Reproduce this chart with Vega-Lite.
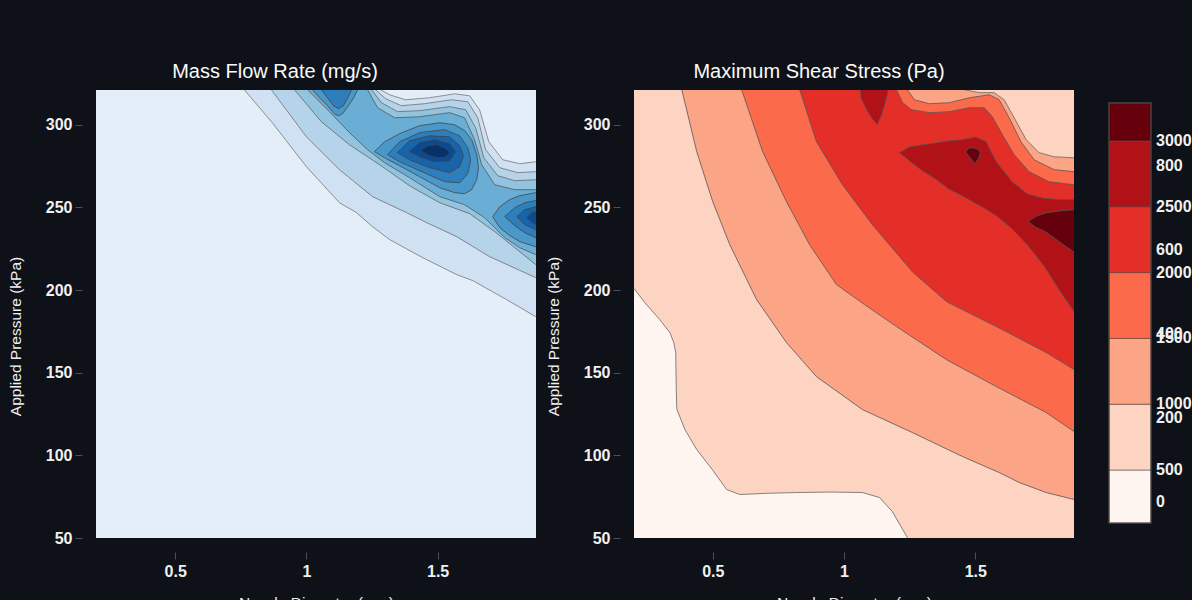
{
"$schema": "https://vega.github.io/schema/vega-lite/v6.json",
"background": "#0e1117",
"padding": {"left": 8, "top": 62, "right": 0, "bottom": 0},
"config": {
  "font": "Liberation Sans",
  "view": {"stroke": null},
  "title": {"color": "#fafafa", "fontSize": 20, "fontWeight": "normal", "baseline": "alphabetic", "offset": 8},
  "axis": {"labelColor": "#f0f0f0", "titleColor": "#f0f0f0", "labelFontSize": 16, "labelFontWeight": "bold", "titleFontSize": 15.5, "titleFontWeight": "normal", "tickColor": "#4a4f5c", "domain": false, "grid": false, "offset": 14, "tickSize": 7, "labelPadding": 3},
  "axisY": {"minExtent": 36, "maxExtent": 36, "titlePadding": 23, "titleY": 246},
  "axisX": {"labelPadding": 4, "titlePadding": 16}
},
"spacing": 34,
"hconcat": [
 {"spacing": 10, "hconcat": [
  {
   "title": {"text": "Mass Flow Rate (mg/s)", "dx": -41},
   "width": 440, "height": 448,
   "view": {"fill": "#e3eef9", "stroke": null},
   "encoding": {
     "x": {"field": "x", "type": "quantitative", "scale": {"domain": [0.198, 1.875], "nice": false, "zero": false}, "axis": {"title": "Nozzle Diameter (mm)", "values": [0.5, 1, 1.5], "format": "~g"}},
     "y": {"field": "y", "type": "quantitative", "scale": {"domain": [50, 321], "nice": false, "zero": false}, "axis": {"title": "Applied Pressure (kPa)", "values": [50, 100, 150, 200, 250, 300]}},
     "y2": {"field": "y2"}
   },
   "layer": [
    {"data": {"values": [{"x":0.75,"y":335},{"x":0.763,"y":321.2},{"x":0.87,"y":301.2},{"x":1.0,"y":274.6},{"x":1.126,"y":252.8},{"x":1.191,"y":246.8},{"x":1.252,"y":238.3},{"x":1.317,"y":230.5},{"x":1.443,"y":219.6},{"x":1.573,"y":209.3},{"x":1.634,"y":205.7},{"x":1.763,"y":194.2},{"x":1.874,"y":183.9},{"x":2.0,"y":176}]},
     "mark": {"type": "area", "color": "#cfe1f2", "stroke": "#777777", "strokeWidth": 0.8, "clip": true}, "encoding": {"y2": {"datum": 335}}},
    {"data": {"values": [{"x":0.86,"y":335},{"x":0.866,"y":321.2},{"x":1.0,"y":292.7},{"x":1.126,"y":272.8},{"x":1.252,"y":256.5},{"x":1.382,"y":246.8},{"x":1.458,"y":240.8},{"x":1.573,"y":232.3},{"x":1.698,"y":220.2},{"x":1.874,"y":207.5},{"x":2.0,"y":200}]},
     "mark": {"type": "area", "color": "#b5d4e9", "stroke": "#707070", "strokeWidth": 0.8, "clip": true}, "encoding": {"y2": {"datum": 335}}},
    {"data": {"values": [{"x":0.945,"y":335},{"x":0.954,"y":321.2},{"x":1.057,"y":301.8},{"x":1.164,"y":287.9},{"x":1.279,"y":275.8},{"x":1.393,"y":263.1},{"x":1.508,"y":252.8},{"x":1.622,"y":246.2},{"x":1.718,"y":235.3},{"x":1.794,"y":225.6},{"x":1.874,"y":215.4},{"x":2.0,"y":208}]},
     "mark": {"type": "area", "color": "#93c4df", "stroke": "#666666", "strokeWidth": 0.8, "clip": true}, "encoding": {"y2": {"datum": 335}}},
    {"data": {"values": [{"x":0.995,"y":335},{"x":1.004,"y":321.2},{"x":1.088,"y":307.9},{"x":1.164,"y":295.2},{"x":1.233,"y":284.9},{"x":1.298,"y":277.0},{"x":1.393,"y":268.0},{"x":1.508,"y":256.5},{"x":1.603,"y":251.6},{"x":1.679,"y":243.8},{"x":1.756,"y":231.7},{"x":1.813,"y":225.6},{"x":1.874,"y":221.4},{"x":2.0,"y":216}]},
     "mark": {"type": "area", "color": "#6aaed6", "stroke": "#555555", "strokeWidth": 0.8, "clip": true}, "encoding": {"y2": {"datum": 335}}},
    {"data": {"values": [{"x":1.225,"y":335},{"x":1.233,"y":321.2},{"x":1.271,"y":310.3},{"x":1.336,"y":304.2},{"x":1.431,"y":304.8},{"x":1.546,"y":307.3},{"x":1.603,"y":304.2},{"x":1.641,"y":290.9},{"x":1.668,"y":275.8},{"x":1.718,"y":263.7},{"x":1.794,"y":260.7},{"x":1.874,"y":260.7},{"x":2.0,"y":260.7}]},
     "mark": {"type": "area", "color": "#93c4df", "stroke": "#555555", "strokeWidth": 0.8, "clip": true}, "encoding": {"y2": {"datum": 335}}},
    {"data": {"values": [{"x":1.24,"y":335},{"x":1.248,"y":321.2},{"x":1.286,"y":313.3},{"x":1.347,"y":307.9},{"x":1.431,"y":308.5},{"x":1.546,"y":310.9},{"x":1.607,"y":309.1},{"x":1.645,"y":298.2},{"x":1.676,"y":280.0},{"x":1.729,"y":269.2},{"x":1.794,"y":266.1},{"x":1.874,"y":266.7},{"x":2.0,"y":266.7}]},
     "mark": {"type": "area", "color": "#b5d4e9", "stroke": "#666666", "strokeWidth": 0.8, "clip": true}, "encoding": {"y2": {"datum": 335}}},
    {"data": {"values": [{"x":1.255,"y":335},{"x":1.263,"y":321.2},{"x":1.302,"y":315.7},{"x":1.362,"y":311.5},{"x":1.45,"y":312.7},{"x":1.553,"y":315.1},{"x":1.615,"y":313.9},{"x":1.653,"y":304.2},{"x":1.683,"y":284.9},{"x":1.737,"y":274.0},{"x":1.805,"y":271.0},{"x":1.874,"y":271.6},{"x":2.0,"y":271.6}]},
     "mark": {"type": "area", "color": "#cfe1f2", "stroke": "#707070", "strokeWidth": 0.8, "clip": true}, "encoding": {"y2": {"datum": 335}}},
    {"data": {"values": [{"x":1.275,"y":335},{"x":1.282,"y":321.2},{"x":1.317,"y":318.1},{"x":1.378,"y":315.1},{"x":1.469,"y":316.3},{"x":1.565,"y":318.7},{"x":1.622,"y":317.5},{"x":1.66,"y":309.1},{"x":1.695,"y":289.7},{"x":1.748,"y":278.8},{"x":1.813,"y":276.4},{"x":1.874,"y":277.6},{"x":2.0,"y":277.6}]},
     "mark": {"type": "area", "color": "#e3eef9", "stroke": "#777777", "strokeWidth": 0.8, "clip": true}, "encoding": {"y2": {"datum": 335}}},
    {"data": {"values": [{"x":1.02,"y":335},{"x":1.023,"y":321.2},{"x":1.05,"y":316.3},{"x":1.08,"y":311.5},{"x":1.107,"y":306.6},{"x":1.122,"y":305.4},{"x":1.137,"y":306.6},{"x":1.16,"y":311.5},{"x":1.18,"y":316.3},{"x":1.195,"y":321.2},{"x":1.2,"y":335}]},
     "mark": {"type": "area", "color": "#4a98c9", "stroke": "#444444", "strokeWidth": 0.8, "clip": true}, "encoding": {"y2": {"datum": 335}}},
    {"data": {"values": [{"x":1.05,"y":335},{"x":1.057,"y":321.2},{"x":1.08,"y":316.3},{"x":1.103,"y":311.5},{"x":1.122,"y":309.7},{"x":1.141,"y":311.5},{"x":1.16,"y":316.9},{"x":1.172,"y":321.2},{"x":1.18,"y":335}]},
     "mark": {"type": "area", "color": "#2e7ebc", "stroke": "#444444", "strokeWidth": 0.8, "clip": true}, "encoding": {"y2": {"datum": 335}}},
    {"data": {"values": [{"x":1.259,"y":283.7,"y2":283.7},{"x":1.298,"y":280.0,"y2":289.7},{"x":1.355,"y":275.2,"y2":294.6},{"x":1.431,"y":268.6,"y2":299.4},{"x":1.508,"y":261.9,"y2":301.2},{"x":1.565,"y":258.9,"y2":300.0},{"x":1.603,"y":258.3,"y2":296.4},{"x":1.63,"y":260.7,"y2":290.9},{"x":1.649,"y":266.7,"y2":281.9},{"x":1.656,"y":274.0,"y2":274.0}]},
     "mark": {"type": "area", "color": "#4a98c9", "stroke": "#444444", "strokeWidth": 0.8, "clip": true}},
    {"data": {"values": [{"x":1.71,"y":244.4,"y2":244.4},{"x":1.737,"y":237.7,"y2":250.4},{"x":1.775,"y":232.9,"y2":254.7},{"x":1.813,"y":229.3,"y2":257.1},{"x":1.874,"y":226.2,"y2":258.9},{"x":2.0,"y":226.2,"y2":258.9}]},
     "mark": {"type": "area", "color": "#4a98c9", "stroke": "#444444", "strokeWidth": 0.8, "clip": true}},
    {"data": {"values": [{"x":1.309,"y":281.9,"y2":281.9},{"x":1.355,"y":277.6,"y2":289.7},{"x":1.431,"y":272.2,"y2":295.2},{"x":1.527,"y":265.5,"y2":297.0},{"x":1.584,"y":264.9,"y2":293.3},{"x":1.615,"y":270.4,"y2":286.1},{"x":1.626,"y":278.8,"y2":278.8}]},
     "mark": {"type": "area", "color": "#2e7ebc", "stroke": "#444444", "strokeWidth": 0.8, "clip": true}},
    {"data": {"values": [{"x":1.756,"y":244.4,"y2":244.4},{"x":1.794,"y":238.9,"y2":249.8},{"x":1.832,"y":234.7,"y2":252.8},{"x":1.874,"y":231.7,"y2":254.1},{"x":2.0,"y":231.7,"y2":254.1}]},
     "mark": {"type": "area", "color": "#2e7ebc", "stroke": "#444444", "strokeWidth": 0.8, "clip": true}},
    {"data": {"values": [{"x":1.347,"y":283.1,"y2":283.1},{"x":1.393,"y":278.8,"y2":290.3},{"x":1.469,"y":274.0,"y2":293.3},{"x":1.546,"y":271.0,"y2":292.7},{"x":1.584,"y":274.6,"y2":287.3},{"x":1.599,"y":281.3,"y2":281.3}]},
     "mark": {"type": "area", "color": "#1764ab", "stroke": "#444444", "strokeWidth": 0.8, "clip": true}},
    {"data": {"values": [{"x":1.802,"y":244.4,"y2":244.4},{"x":1.832,"y":239.5,"y2":248.6},{"x":1.874,"y":236.5,"y2":250.4},{"x":2.0,"y":236.5,"y2":250.4}]},
     "mark": {"type": "area", "color": "#1764ab", "stroke": "#444444", "strokeWidth": 0.8, "clip": true}},
    {"data": {"values": [{"x":1.393,"y":283.7,"y2":283.7},{"x":1.431,"y":280.6,"y2":289.1},{"x":1.488,"y":277.6,"y2":290.9},{"x":1.546,"y":278.2,"y2":288.5},{"x":1.569,"y":283.7,"y2":283.7}]},
     "mark": {"type": "area", "color": "#0a4a90", "stroke": "#444444", "strokeWidth": 0.8, "clip": true}},
    {"data": {"values": [{"x":1.84,"y":243.8,"y2":243.8},{"x":1.859,"y":240.8,"y2":246.8},{"x":1.874,"y":239.5,"y2":247.4},{"x":2.0,"y":239.5,"y2":247.4}]},
     "mark": {"type": "area", "color": "#0a4a90", "stroke": "#444444", "strokeWidth": 0.8, "clip": true}},
    {"data": {"values": [{"x":1.435,"y":284.3,"y2":284.3},{"x":1.462,"y":281.9,"y2":287.3},{"x":1.5,"y":280.0,"y2":287.9},{"x":1.531,"y":280.6,"y2":285.5},{"x":1.546,"y":283.1,"y2":283.1}]},
     "mark": {"type": "area", "color": "#08306b", "stroke": "#444444", "strokeWidth": 0.8, "clip": true}}
   ]
  },
  {
   "title": {"text": "Maximum Shear Stress (Pa)", "dx": -35},
   "width": 440, "height": 448,
   "view": {"fill": "#fff5f0", "stroke": null},
   "encoding": {
     "x": {"field": "x", "type": "quantitative", "scale": {"domain": [0.2, 1.876], "nice": false, "zero": false}, "axis": {"title": "Nozzle Diameter (mm)", "values": [0.5, 1, 1.5], "format": "~g"}},
     "y": {"field": "y", "type": "quantitative", "scale": {"domain": [50, 321], "nice": false, "zero": false}, "axis": {"title": "Applied Pressure (kPa)", "values": [50, 100, 150, 200, 250, 300]}},
     "y2": {"field": "y2"}
   },
   "layer": [
    {"data": {"values": [{"x":0.15,"y":206},{"x":0.2,"y":201.0},{"x":0.241,"y":192.4},{"x":0.298,"y":182.1},{"x":0.337,"y":174.2},{"x":0.352,"y":168},{"x":0.359,"y":162},{"x":0.36,"y":150},{"x":0.361,"y":140},{"x":0.363,"y":128},{"x":0.394,"y":115.6},{"x":0.439,"y":103.5},{"x":0.5,"y":91},{"x":0.553,"y":79.3},{"x":0.603,"y":76.3},{"x":0.7,"y":77},{"x":0.819,"y":77.5},{"x":0.95,"y":77.8},{"x":1.07,"y":77.5},{"x":1.135,"y":74.5},{"x":1.184,"y":66.0},{"x":1.241,"y":50.3},{"x":1.26,"y":45},{"x":2.0,"y":45}]},
     "mark": {"type": "area", "color": "#fdd4c2", "stroke": "#666666", "strokeWidth": 0.8, "clip": true}, "encoding": {"y2": {"datum": 335}}},
    {"data": {"values": [{"x":0.37,"y":335},{"x":0.382,"y":321.2},{"x":0.439,"y":283.7},{"x":0.5,"y":253.4},{"x":0.565,"y":227.4},{"x":0.667,"y":194.2},{"x":0.781,"y":168.2},{"x":0.895,"y":147.6},{"x":1.07,"y":127.7},{"x":1.26,"y":113.8},{"x":1.451,"y":99.3},{"x":1.591,"y":89.6},{"x":1.667,"y":83.6},{"x":1.77,"y":77.5},{"x":1.876,"y":73.3},{"x":2.0,"y":72}]},
     "mark": {"type": "area", "color": "#fca486", "stroke": "#555555", "strokeWidth": 0.8, "clip": true}, "encoding": {"y2": {"datum": 335}}},
    {"data": {"values": [{"x":0.6,"y":335},{"x":0.61,"y":321.2},{"x":0.69,"y":283.7},{"x":0.781,"y":253.4},{"x":0.869,"y":227.4},{"x":0.971,"y":203.3},{"x":1.078,"y":191.2},{"x":1.2,"y":177.9},{"x":1.39,"y":157.9},{"x":1.58,"y":141.6},{"x":1.77,"y":125.9},{"x":1.876,"y":114.4},{"x":2.0,"y":108}]},
     "mark": {"type": "area", "color": "#fb6b4b", "stroke": "#555555", "strokeWidth": 0.8, "clip": true}, "encoding": {"y2": {"datum": 335}}},
    {"data": {"values": [{"x":0.82,"y":335},{"x":0.831,"y":321.2},{"x":0.895,"y":289.7},{"x":0.994,"y":263.7},{"x":1.108,"y":239.5},{"x":1.26,"y":211.1},{"x":1.39,"y":193.0},{"x":1.58,"y":177.9},{"x":1.77,"y":162.2},{"x":1.876,"y":151.9},{"x":2.0,"y":145}]},
     "mark": {"type": "area", "color": "#e32f27", "stroke": "#555555", "strokeWidth": 0.8, "clip": true}, "encoding": {"y2": {"datum": 335}}},
    {"data": {"values": [{"x":1.211,"y":283.1,"y2":283.1},{"x":1.25,"y":278,"y2":286.7},{"x":1.3,"y":272,"y2":287.9},{"x":1.35,"y":267,"y2":289},{"x":1.4,"y":261,"y2":290.3},{"x":1.45,"y":257,"y2":290.9},{"x":1.5,"y":252.5,"y2":292.5},{"x":1.54,"y":249,"y2":290},{"x":1.58,"y":245,"y2":277.6},{"x":1.64,"y":237,"y2":265.5},{"x":1.7,"y":227,"y2":258},{"x":1.76,"y":215,"y2":255.5},{"x":1.82,"y":200,"y2":254.7},{"x":1.876,"y":187,"y2":254.7},{"x":2.0,"y":165,"y2":254.7}]},
     "mark": {"type": "area", "color": "#b11218", "stroke": "#555555", "strokeWidth": 0.8, "clip": true}},
    {"data": {"values": [{"x":1.19,"y":335},{"x":1.2,"y":321.2},{"x":1.223,"y":313.3},{"x":1.257,"y":309.1},{"x":1.325,"y":307.3},{"x":1.401,"y":307.9},{"x":1.477,"y":310.3},{"x":1.534,"y":310.3},{"x":1.565,"y":304.8},{"x":1.603,"y":294.0},{"x":1.648,"y":281.9},{"x":1.705,"y":271.6},{"x":1.781,"y":265.5},{"x":1.876,"y":263.7},{"x":2.0,"y":263}]},
     "mark": {"type": "area", "color": "#fb6b4b", "stroke": "#555555", "strokeWidth": 0.8, "clip": true}, "encoding": {"y2": {"datum": 335}}},
    {"data": {"values": [{"x":1.23,"y":335},{"x":1.241,"y":321.2},{"x":1.268,"y":315.1},{"x":1.325,"y":312.7},{"x":1.401,"y":313.3},{"x":1.477,"y":316.3},{"x":1.553,"y":318.1},{"x":1.591,"y":315.1},{"x":1.629,"y":304.2},{"x":1.674,"y":289.7},{"x":1.724,"y":278.8},{"x":1.8,"y":272.8},{"x":1.876,"y":271.6},{"x":2.0,"y":271}]},
     "mark": {"type": "area", "color": "#fca486", "stroke": "#555555", "strokeWidth": 0.8, "clip": true}, "encoding": {"y2": {"datum": 335}}},
    {"data": {"values": [{"x":1.43,"y":335},{"x":1.457,"y":321.2},{"x":1.515,"y":319.4},{"x":1.572,"y":319.4},{"x":1.61,"y":315.1},{"x":1.648,"y":304.2},{"x":1.694,"y":290.9},{"x":1.743,"y":283.1},{"x":1.8,"y":280.6},{"x":1.876,"y":280.0},{"x":2.0,"y":280}]},
     "mark": {"type": "area", "color": "#fdd4c2", "stroke": "#666666", "strokeWidth": 0.8, "clip": true}, "encoding": {"y2": {"datum": 335}}},
    {"data": {"values": [{"x":1.055,"y":335},{"x":1.065,"y":316},{"x":1.09,"y":308},{"x":1.11,"y":303},{"x":1.127,"y":300},{"x":1.145,"y":307},{"x":1.165,"y":318},{"x":1.175,"y":335}]},
     "mark": {"type": "area", "color": "#b11218", "stroke": "#555555", "strokeWidth": 0.8, "clip": true}, "encoding": {"y2": {"datum": 335}}},
    {"data": {"values": [{"x":1.464,"y":283.5,"y2":283.5},{"x":1.475,"y":281,"y2":285.8},{"x":1.49,"y":278,"y2":286},{"x":1.5,"y":276.5,"y2":285.8},{"x":1.512,"y":279.5,"y2":285},{"x":1.52,"y":283,"y2":283}]},
     "mark": {"type": "area", "color": "#67000d", "stroke": "#555555", "strokeWidth": 0.8, "clip": true}},
    {"data": {"values": [{"x":1.7,"y":241.5,"y2":241.5},{"x":1.73,"y":238,"y2":244.5},{"x":1.77,"y":235,"y2":246.8},{"x":1.83,"y":228,"y2":248},{"x":1.876,"y":223,"y2":248.6},{"x":2.0,"y":215,"y2":249}]},
     "mark": {"type": "area", "color": "#67000d", "stroke": "#555555", "strokeWidth": 0.8, "clip": true}}
   ]
  }
 ]},
 {
  "title": {"text": " "},
  "width": 42, "height": 448,
  "resolve": {"scale": {"y": "independent"}},
  "layer": [
   {"data": {"values": [{"lo":97,"hi":500,"band":"0"},{"lo":500,"hi":1000,"band":"500"},{"lo":1000,"hi":1500,"band":"1000"},{"lo":1500,"hi":2000,"band":"1500"},{"lo":2000,"hi":2500,"band":"2000"},{"lo":2500,"hi":3000,"band":"2500"},{"lo":3000,"hi":3289,"band":"3000"}]},
    "mark": {"type": "rect", "stroke": "#6a4a44", "strokeWidth": 0.6},
    "encoding": {
      "x": {"datum": 0, "type": "quantitative", "scale": {"domain": [0, 1]}, "axis": null},
      "x2": {"datum": 1},
      "y": {"field": "lo", "type": "quantitative", "scale": {"domain": [-16.7, 3387.5], "nice": false, "zero": false}, "axis": null},
      "y2": {"field": "hi"},
      "color": {"field": "band", "type": "nominal", "scale": {"domain": ["0","500","1000","1500","2000","2500","3000"], "range": ["#fff5f0","#fdd4c2","#fca486","#fb6b4b","#e32f27","#b11218","#67000d"]}, "legend": null}
    }},
   {"data": {"values": [{"lo":97,"hi":3289}]},
    "mark": {"type": "rect", "fill": null, "fillOpacity": 0, "stroke": "#444444", "strokeWidth": 1.2},
    "encoding": {
      "x": {"datum": 0, "type": "quantitative", "scale": {"domain": [0, 1]}, "axis": null},
      "x2": {"datum": 1},
      "y": {"field": "lo", "type": "quantitative", "scale": {"domain": [-16.7, 3387.5], "nice": false, "zero": false}, "axis": null},
      "y2": {"field": "hi"}
    }},
   {"data": {"values": [{"v":500},{"v":1000},{"v":1500},{"v":2000},{"v":2500},{"v":3000}]},
    "mark": {"type": "text", "align": "left", "baseline": "middle", "dx": 5, "fontSize": 16, "fontWeight": "bold", "color": "#f0f0f0"},
    "encoding": {
      "x": {"datum": 1, "type": "quantitative", "scale": {"domain": [0, 1]}, "axis": null},
      "y": {"field": "v", "type": "quantitative", "scale": {"domain": [-16.7, 3387.5], "nice": false, "zero": false}, "axis": null},
      "text": {"field": "v", "type": "quantitative", "format": "d"}
    }},
   {"data": {"values": [{"m":0},{"m":200},{"m":400},{"m":600},{"m":800}]},
    "mark": {"type": "text", "align": "left", "baseline": "middle", "dx": 5, "fontSize": 16, "fontWeight": "bold", "color": "#f0f0f0"},
    "encoding": {
      "x": {"datum": 1, "type": "quantitative", "scale": {"domain": [0, 1]}, "axis": null},
      "y": {"field": "m", "type": "quantitative", "scale": {"domain": [-85.7, 981], "nice": false, "zero": false}, "axis": null},
      "text": {"field": "m", "type": "quantitative", "format": "d"}
    }}
  ]
 }
]
}
